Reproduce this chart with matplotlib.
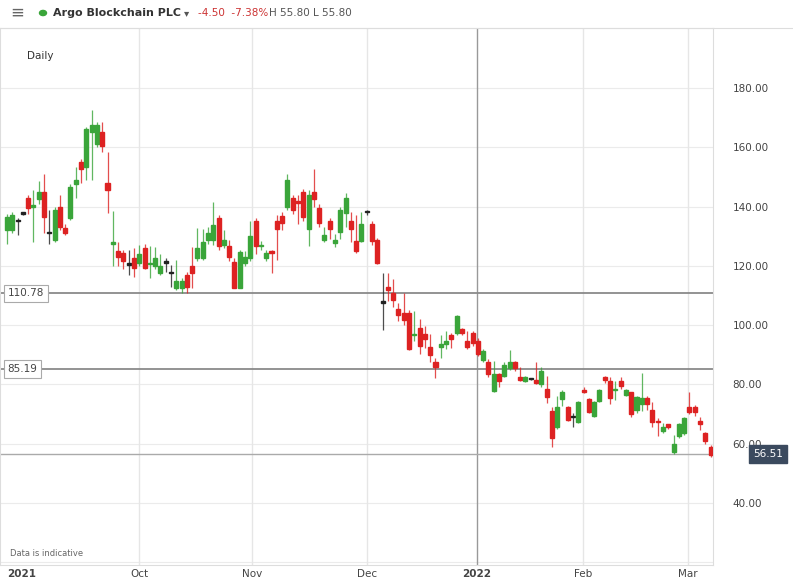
import matplotlib.pyplot as plt
from matplotlib.patches import Rectangle, Circle

opens = [132, 132, 135, 137.5, 143, 140, 142.5, 145, 131, 128.7, 140, 132.8, 136, 147.5, 155, 153.4, 165, 161, 165, 148,
         127.5, 125, 124.3, 120.3, 122.6, 121, 126, 120.5, 120, 117.6, 121, 117.5, 112.5, 112.5, 117, 120, 122.6, 122.6, 128.6, 128.7,
         136, 127, 126.6, 121.3, 112.5, 121, 122.6, 135, 126.6, 122.5, 124.8, 135, 136.8, 140, 143, 141.8, 145, 132.4, 145, 139.5,
         128.6, 135, 127.8, 131.5, 137.8, 135, 128.5, 128.4, 138, 134, 128.7, 107.5, 112.8, 111, 105.4, 104, 104, 96.6, 99, 97,
         92.6, 87.5, 92.6, 93.6, 96.5, 97.4, 98.7, 94.6, 97.4, 94.7, 88.4, 87.6, 77.8, 83.5, 83, 85.5, 87.7, 82.6, 81, 81.8,
         81.5, 80.3, 78.5, 71, 65.6, 75, 72.4, 69, 67.3, 77.6, 75, 69.5, 74.5, 82.4, 81, 78, 81, 76.4, 77.4, 71.2,
         73.5, 75.5, 71.4, 67.6, 64.2, 66.5, 57.2, 62.6, 63.5, 72.4, 72.4, 67.7, 63.5, 58.9]
closes = [136.5, 137, 135, 137.5, 139.5, 140.5, 145, 136.5, 131, 139, 133, 131, 146.6, 149, 152.7, 166, 167.5, 167.5, 160.4, 145.6,
          127.9, 123, 121.5, 120.3, 119.3, 124, 119.3, 120.9, 122.5, 120, 121, 117.5, 115, 115, 113, 117.6, 126, 128, 131, 133.8,
          126.6, 128.6, 123, 112.5, 124.6, 123, 130, 126.6, 127, 124.5, 124.5, 132.4, 134.5, 149, 139, 141.3, 136.5, 144, 142.5, 134.5,
          130.5, 132.4, 128.8, 139, 143, 132.4, 125, 134, 138, 128.4, 121, 107.5, 111.8, 108.5, 103.4, 101.6, 92, 96.9, 93, 95.3,
          90, 85.9, 93.6, 94.7, 95.3, 103, 97.4, 92.6, 94, 90.3, 91.4, 83.5, 83.5, 81, 86.6, 87.7, 85.5, 81.6, 82.4, 81.8,
          80.5, 84.5, 75.8, 61.9, 72.4, 77.6, 68, 69, 74, 77.5, 70.8, 74, 78, 81.5, 75.4, 78.3, 79.3, 78, 70, 75.6,
          75.5, 73.5, 67.3, 67.2, 65.5, 65.5, 60, 66.7, 68.7, 70.7, 70.7, 66.8, 60.8, 56.1]
highs = [137.5, 138, 136, 138, 144, 145.5, 148.6, 151, 139, 140, 144, 134, 147.5, 153.5, 156, 167, 172.6, 168.5, 168.5, 158.4,
         138.5, 128, 125.5, 125.3, 126, 127, 127.5, 126.6, 126.5, 124, 122.5, 120.3, 122, 116, 118, 126.5, 132.8, 132.5, 133, 141.5,
         137, 132, 128.6, 122.5, 125.3, 125, 135, 136, 128.5, 125.5, 125.5, 137, 138, 151, 144, 144, 146, 145.5, 152.7, 141,
         133, 136, 130.8, 140, 144.5, 138, 137, 138, 139, 135, 129.5, 117.6, 117.6, 115.5, 107.5, 111, 105, 104.8, 102, 99.7,
         97, 89, 96.5, 98, 97.5, 103.5, 99, 98, 98, 95.5, 92, 88.5, 88, 84, 87.7, 91.5, 88, 86, 82.8, 82,
         87.5, 86, 83, 72.5, 76, 78, 72.8, 70.5, 74.5, 79, 75.5, 74.5, 78.3, 83, 82.5, 81, 82.5, 78.5, 77.6, 76,
         83.8, 76, 74, 68.5, 67, 66.8, 63, 67, 69, 77.6, 73, 69, 64, 59.5]
lows = [127.5, 131, 130.5, 137, 137.5, 128, 141, 131, 127.5, 128, 132, 130.5, 135.5, 143, 148, 149, 149, 160, 158.4, 137.8,
        120, 120, 119, 117, 116.4, 120, 119, 116, 119, 117, 118, 113, 112, 111, 111, 112.5, 121.5, 122, 127.5, 127,
        125.5, 126, 121.5, 112.5, 112.5, 120, 121.5, 124, 125.5, 121.5, 117.6, 122, 132, 139, 137.5, 134, 135, 126.6, 140, 133,
        128, 129, 126.5, 129, 133, 128, 124.5, 128, 137, 127, 120.5, 98.4, 108, 106, 101.4, 100, 91.5, 94.7, 90.3, 92.2,
        87.5, 82, 89, 92, 92.2, 96.5, 96.5, 92, 93, 89.5, 87.5, 82.5, 77.5, 79, 82.5, 85, 84.5, 81, 80.8, 81.6,
        80, 79, 73.6, 58.9, 65, 72.7, 67.5, 65.5, 67, 77.2, 70.5, 69, 74, 80.5, 73.5, 74.7, 78.5, 76, 69, 70.5,
        71, 71.5, 65.5, 62.5, 63.5, 65, 56.5, 62, 63, 70, 69.5, 64.6, 60, 55.5]

tick_labels = ['2021', 'Oct', 'Nov', 'Dec', '2022', 'Feb', 'Mar']
tick_px = [22, 139, 252, 367, 477, 583, 688]
price_ticks = [40, 60, 80, 100, 120, 140, 160, 180]
levels = [110.78, 85.19]
last_price = 56.51

GREEN = '#3aa53a'
RED = '#dd2222'
BLACK = '#222222'

W, H = 793, 583
fig = plt.figure(figsize=(W / 100, H / 100), dpi=100)
ax = fig.add_axes([0, (H - 565) / H, 713 / W, (565 - 28) / H])

step = 5.29
x0 = 7
ax.set_xlim(-x0 / step, (713 - x0) / step)
ax.set_ylim(180 - (565 - 88) / 2.964, 180 + (88 - 28) / 2.964)

for v in range(20, 200, 20):
    ax.axhline(v, color='#ebebeb', lw=0.8, zorder=0)
for px in tick_px[1:]:
    ax.axvline((px - x0) / step, color='#999999' if px == 477 else '#e6e6e6', lw=1.0, zorder=0)

for i, (o, c, h, l) in enumerate(zip(opens, closes, highs, lows)):
    col = GREEN if c > o else (RED if c < o else BLACK)
    ax.vlines(i, l, h, color=col, lw=0.9, alpha=0.8, zorder=2)
    bot = min(o, c)
    ht = max(abs(c - o), 0.5)
    ax.add_patch(Rectangle((i - 0.38, bot), 0.76, ht, color=col, zorder=3))

for lv in levels:
    ax.axhline(lv, color='#8a8a8a', lw=1.3, zorder=1)
    ax.text(0.1, lv, f'{lv:.2f}', fontsize=7.5, color='#444444', va='center', ha='left', zorder=5,
            bbox=dict(boxstyle='square,pad=0.35', fc='white', ec='#aaaaaa', lw=0.8))
ax.axhline(last_price, color='#aaaaaa', lw=1.0, zorder=1)

ax.set_xticks([(p - x0) / step for p in tick_px])
ax.set_xticklabels(tick_labels, fontsize=7.5, color='#444444')
for lab in ax.get_xticklabels():
    if lab.get_text() in ('2021', '2022'):
        lab.set_fontweight('bold')
ax.tick_params(axis='x', length=0, pad=3)
ax.yaxis.tick_right()
ax.set_yticks(price_ticks)
ax.set_yticklabels([f'{v:.2f}' for v in price_ticks], fontsize=7.5, color='#444444')
ax.tick_params(axis='y', length=0, pad=14)
for s in ax.spines.values():
    s.set_color('#dddddd')
    s.set_linewidth(0.8)

ax.text(ax.get_xlim()[1] + 40 / step, last_price, f'{last_price:.2f}', fontsize=7.5, color='white',
        va='center', ha='left', clip_on=False, zorder=6,
        bbox=dict(boxstyle='square,pad=0.35', fc='#3b4a5e', ec='#3b4a5e'))

ax.text(27 / 713, 1 - (56 - 28) / 537, 'Daily', transform=ax.transAxes, fontsize=7.5, color='#333333', va='center')
ax.text(10 / 713, 1 - (553 - 28) / 537, 'Data is indicative', transform=ax.transAxes, fontsize=6,
        color='#666666', va='center')

# header
fig.text(10 / W, 1 - 13 / H, '\u2261', fontsize=12, color='#666666', va='center')
fig.add_artist(Circle((43 / W, 1 - 13 / H), 3.5 / W, transform=fig.transFigure, color=GREEN))
fig.add_artist(plt.Line2D([0, 1], [1 - 28 / H, 1 - 28 / H], transform=fig.transFigure, color='#dddddd', lw=0.8))
fig.text(53 / W, 1 - 13 / H, 'Argo Blockchain PLC', fontsize=8, fontweight='bold', color='#333333', va='center')
fig.text(184 / W, 1 - 13 / H, '\u25be', fontsize=7.5, color='#555555', va='center')
fig.text(198 / W, 1 - 13 / H, '-4.50  -7.38%', fontsize=7.5, color='#cc3333', va='center')
fig.text(269 / W, 1 - 13 / H, 'H 55.80 L 55.80', fontsize=7.5, color='#555555', va='center')

fig.savefig('out.png', dpi=100)
